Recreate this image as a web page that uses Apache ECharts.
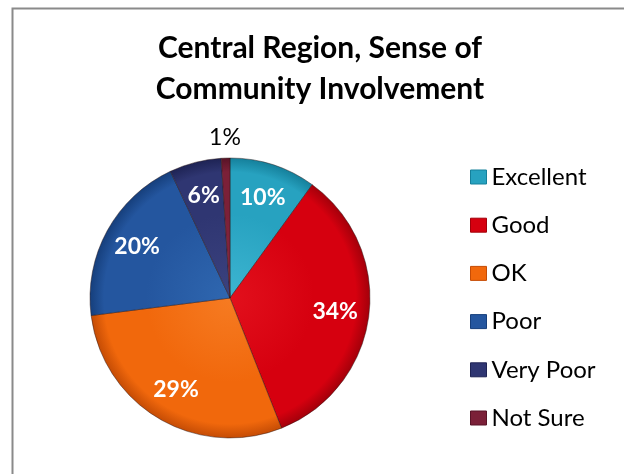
<!DOCTYPE html>
<html>
<head>
<meta charset="utf-8">
<script src="https://cdn.jsdelivr.net/npm/echarts@6/dist/echarts.min.js"></script>
<style>
  html, body { margin: 0; padding: 0; background: #ffffff; }
  #chart { width: 624px; height: 474px; }
</style>
</head>
<body>
<div id="chart"></div>
<script>
// Survey responses: sense of community involvement, Central Region
var titleLines = ['Central Region, Sense of', 'Community Involvement'];
var categories = ['Excellent', 'Good', 'OK', 'Poor', 'Very Poor', 'Not Sure'];
var percents = [10, 34, 29, 20, 6, 1];

// light / base / dark tones per slice
var palette = [
  ['#3db5d1', '#27a2c0', '#15809b'],
  ['#e2101c', '#d6000f', '#a3000a'],
  ['#f67b22', '#f1680c', '#c54c05'],
  ['#2f67b0', '#24569f', '#163f7c'],
  ['#3b427f', '#2f3672', '#1e2354'],
  ['#8a2a44', '#7b2038', '#581326']
];

var CX = 230, CY = 298, R = 140;

function sliceFill(i) {
  var p = palette[i];
  return new echarts.graphic.RadialGradient(CX, CY, R, [
    { offset: 0, color: p[0] },
    { offset: 0.6, color: p[1] },
    { offset: 0.9, color: p[1] },
    { offset: 1, color: p[2] }
  ], true);
}

var chart = echarts.init(document.getElementById('chart'), null, { renderer: 'canvas' });

var pieData = categories.map(function (name, i) {
  return { name: name, value: percents[i], itemStyle: { color: sliceFill(i) } };
});

// label-only rings: inner ring carries the white values, outer ring the small slice value
var innerLabels = categories.map(function (name, i) {
  return {
    name: name, value: percents[i],
    label: { show: i < categories.length - 1 }
  };
});
var outerLabels = categories.map(function (name, i) {
  return {
    name: name, value: percents[i],
    label: { show: i === categories.length - 1 }
  };
});

chart.setOption({
  backgroundColor: '#ffffff',
  animation: false,
  title: {
    text: titleLines.join('\n'),
    left: 315,
    textAlign: 'center',
    top: 23,
    textStyle: {
      fontFamily: 'Lato',
      fontWeight: 'bold',
      fontSize: 30,
      lineHeight: 41,
      color: '#000000'
    }
  },
  legend: {
    orient: 'vertical',
    left: 465,
    top: 159,
    icon: 'rect',
    itemWidth: 16,
    itemHeight: 14,
    itemGap: 22.2,
    textStyle: { fontFamily: 'Lato', fontSize: 24, lineHeight: 26, color: '#000000' },
    data: categories.map(function (name, i) {
      return { name: name, itemStyle: { color: palette[i][1], borderColor: palette[i][2], borderWidth: 1 } };
    })
  },
  graphic: [{
    type: 'rect',
    shape: { x: 12.5, y: 8.5, width: 700, height: 600 },
    style: { fill: 'none', stroke: '#8a8a8a', lineWidth: 2 },
    silent: true
  }],
  series: [
    {
      type: 'pie',
      center: [CX, CY],
      radius: [0, R],
      startAngle: 90,
      clockwise: true,
      label: { show: false },
      labelLine: { show: false },
      itemStyle: { borderColor: 'rgba(40,20,20,0.45)', borderWidth: 1 },
      emphasis: { disabled: true },
      data: pieData
    },
    {
      type: 'pie',
      center: [CX, CY],
      radius: [66, R],
      startAngle: 90,
      silent: true,
      itemStyle: { color: 'rgba(0,0,0,0)' },
      label: {
        position: 'inside',
        formatter: '{c}%',
        fontFamily: 'Lato',
        fontWeight: 'bold',
        fontSize: 23,
        color: '#ffffff'
      },
      labelLine: { show: false },
      emphasis: { disabled: true },
      data: innerLabels
    },
    {
      type: 'pie',
      center: [CX, CY],
      radius: [R, 176],
      startAngle: 90,
      silent: true,
      itemStyle: { color: 'rgba(0,0,0,0)' },
      label: {
        position: 'inside',
        formatter: '{c}%',
        fontFamily: 'Lato',
        fontSize: 23,
        color: '#000000'
      },
      labelLine: { show: false },
      emphasis: { disabled: true },
      data: outerLabels
    }
  ]
});
</script>
</body>
</html>
